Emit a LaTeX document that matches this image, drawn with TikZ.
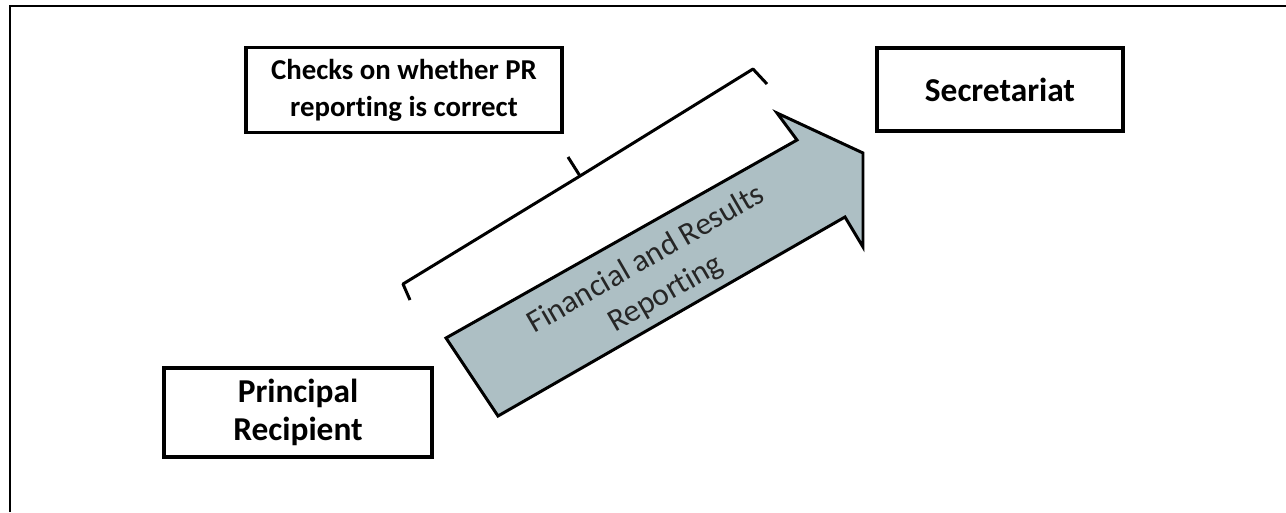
\documentclass[tikz,border=0pt]{standalone}
\usepackage{fontspec}
\setmainfont{Carlito}[Ligatures=NoCommon]
\definecolor{arrowfill}{RGB}{173,191,196}
\tikzset{
    labelbox/.style={draw, line width=2pt, align=center, inner sep=2pt,
        font=\fontsize{19}{22}\selectfont\bfseries},
}
\begin{document}
\begin{tikzpicture}[x=0.02cm, y=-0.02cm]
        \useasboundingbox (0,0) rectangle (1286,512);

        % Outer frame (top and left edges only)
        \draw[line width=1.5pt] (10,512) -- (10,6) -- (1286,6);

        % Boxes
        \node[labelbox, minimum width=6.32cm, minimum height=1.7cm,
            font=\fontsize{16.4}{21}\selectfont\bfseries] (checks) at (404,90)
            {Checks on whether PR\\reporting is correct};
        \node[labelbox, minimum width=4.92cm, minimum height=1.66cm] (secr) at (1000,89.5)
            {Secretariat};
        \node[labelbox, minimum width=5.36cm, minimum height=1.78cm] (pr) at (298,412.5)
            {Principal\\Recipient};

        % Block arrow
        \draw[line width=1.7pt, fill=arrowfill, line join=miter]
            (446,338) -- (797,140) -- (777,113) -- (863,153) -- (863,247)
            -- (845,217) -- (498,416) -- cycle;
        \node[rotate=30, align=center, text=black!85,
            font=\fontsize{18}{22.5}\selectfont] (flow) at (656,277)
            {Financial and Results\\Reporting};

        % Bracket above the arrow
        \coordinate (bl) at (403,284);
        \coordinate (bm) at (580,176);
        \coordinate (br) at (753,69);
        \draw[line width=1.7pt, line join=round]
            (410,300) -- (bl) -- (bm) -- (br) -- (767,84);
        \draw[line width=1.7pt] (bm) -- (568,157);
    \end{tikzpicture}
\end{document}
